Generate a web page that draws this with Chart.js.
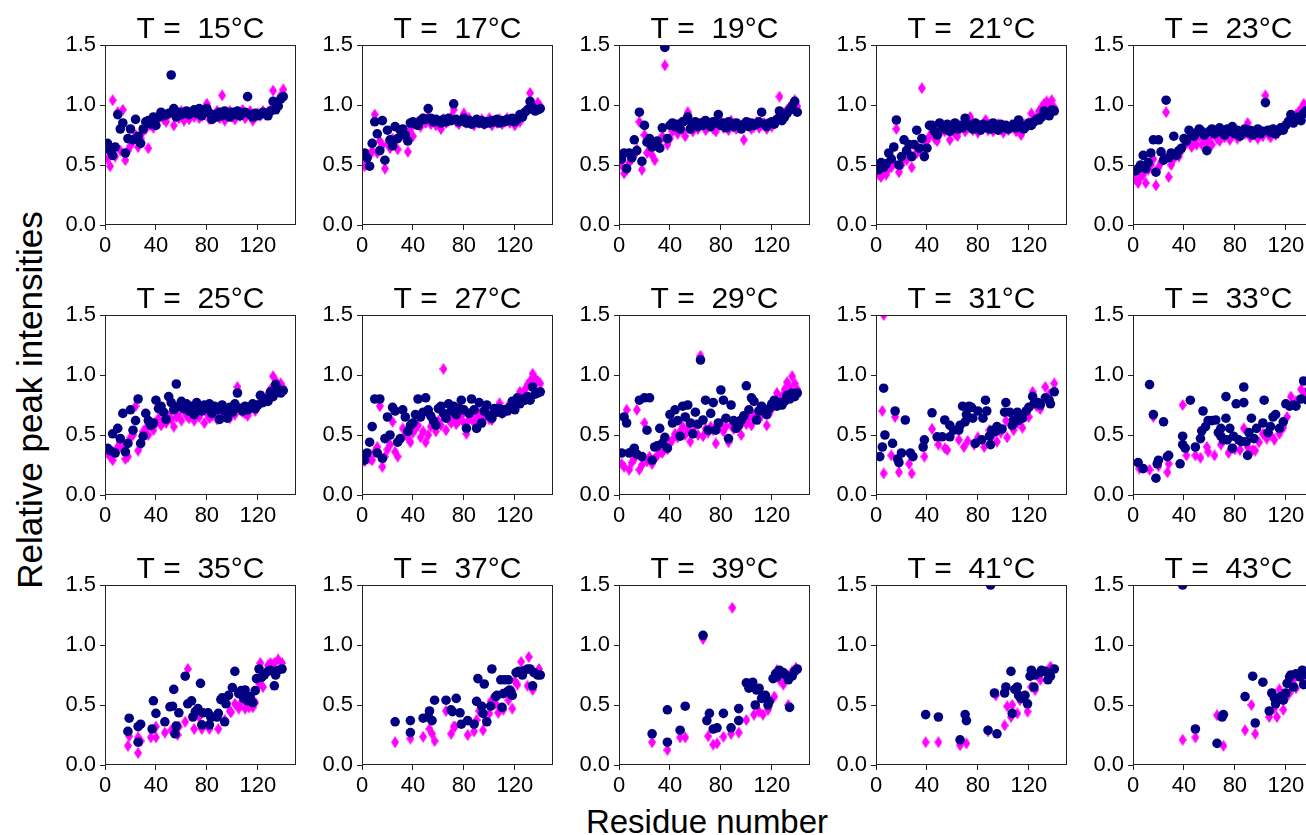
<!DOCTYPE html>
<html>
<head>
<meta charset="utf-8">
<script src="https://cdn.jsdelivr.net/npm/chart.js@4.4.1/dist/chart.umd.min.js"></script>
<style>
  html, body { margin: 0; padding: 0; background: #fff; }
  body { width: 1306px; height: 835px; overflow: hidden; position: relative;
         font-family: "Liberation Sans", Arial, sans-serif; color: #000; }
  canvas.panel { position: absolute; }
  #ylab { position: absolute; left: 30px; top: 400px; font-size: 35px; white-space: nowrap;
          transform: translate(-50%, -50%) rotate(-90deg); }
  #xlab { position: absolute; left: 707px; top: 822px; font-size: 33px; white-space: nowrap;
          transform: translate(-50%, -50%); }
</style>
</head>
<body>
<div id="ylab">Relative peak intensities</div>
<div id="xlab">Residue number</div>
<script>
// temperatures of the 15 panels
const temps = [15, 17, 19, 21, 23, 25, 27, 29, 31, 33, 35, 37, 39, 41, 43];

// residue numbers used by the dense panels (15-29 C)
const resAll = [2, 4, 6, 8, 10, 12, 14, 16, 18, 20, 22, 24, 26, 28, 30, 32, 34, 36, 38, 40,
  42, 44, 46, 48, 50, 52, 54, 56, 58, 60, 62, 64, 66, 68, 70, 72, 74, 76, 78, 80,
  82, 84, 86, 88, 90, 92, 94, 96, 98, 100, 102, 104, 106, 108, 110, 112, 114, 116, 118, 120,
  122, 124, 126, 128, 130, 132, 134, 136, 138, 140];

const navy15 = [0.68,0.62,0.58,0.65,0.92,0.80,0.85,0.60,0.72,0.80, 0.71,0.88,0.74,0.68,0.80,0.86,0.87,0.84,0.90,0.83,
  0.90,0.94,0.91,0.92,0.93,1.25,0.97,0.90,0.94,0.92, 0.93,0.95,0.92,0.94,0.96,0.93,0.97,0.91,0.95,0.97,
  0.93,0.88,0.92,0.90,0.94,0.91,0.95,0.93,0.90,0.94, 0.92,0.95,0.91,0.93,0.94,1.07,0.92,0.90,0.93,0.91,
  0.92,0.94,0.93,0.91,0.95,1.03,0.96,0.99,1.05,1.07];
const mag15 = [0.55,0.49,1.04,0.57,0.94,0.62,0.96,0.54,0.62,0.66, 0.70,0.75,0.65,0.72,0.78,0.80,0.64,0.83,0.81,0.87,
  0.89,0.91,0.88,0.86,0.92,0.94,0.83,0.91,0.89,0.95, 0.87,0.92,0.88,0.93,0.90,0.94,0.89,0.91,0.97,1.01,
  0.88,0.92,0.90,0.95,0.89,1.08,0.87,0.93,0.95,0.90, 0.88,0.94,0.91,0.96,0.89,0.92,0.95,0.87,0.90,0.93,
  0.91,0.95,0.92,0.94,0.96,1.12,0.99,1.02,1.08,1.13];

const navy17 = [0.60,0.56,0.49,0.68,0.86,0.76,0.62,0.87,0.54,0.79, 0.71,0.66,0.82,0.72,0.79,0.80,0.75,0.70,0.85,0.86,
  0.84,0.83,0.87,0.89,0.88,0.97,0.89,0.86,0.88,0.87, 0.85,0.88,0.86,0.89,0.87,1.01,0.88,0.86,0.87,0.89,
  0.85,0.87,0.84,0.86,0.88,0.85,0.87,0.84,0.86,0.85, 0.87,0.86,0.88,0.85,0.87,0.86,0.88,0.87,0.89,0.86,
  0.88,0.92,0.90,0.94,0.96,1.03,0.98,0.95,0.96,0.97];
const mag17 = [0.49,0.52,0.58,0.62,0.92,0.60,0.70,0.66,0.47,0.68, 0.64,0.72,0.70,0.63,0.74,0.76,0.72,0.61,0.80,0.74,
  0.84,0.86,0.82,0.88,0.85,0.90,0.84,0.87,0.83,0.86, 0.80,0.88,0.85,0.87,0.90,0.96,0.86,0.84,0.88,0.93,
  0.85,0.89,0.86,0.83,0.87,0.85,0.88,0.84,0.86,0.89, 0.83,0.87,0.85,0.88,0.84,0.86,0.89,0.85,0.87,0.83,
  0.88,0.86,0.91,0.93,0.97,1.10,1.00,0.98,1.02,0.99];

const navy19 = [0.55,0.60,0.47,0.60,0.56,0.71,0.62,0.94,0.53,0.83, 0.69,0.72,0.65,0.68,0.70,0.64,0.81,1.48,0.72,0.83,
  0.85,0.82,0.84,0.80,0.86,0.87,0.90,0.80,0.84,0.86, 0.82,0.85,0.83,0.87,0.84,0.82,0.86,0.85,0.92,0.83,
  0.85,0.81,0.86,0.84,0.82,0.85,0.83,0.80,0.84,0.86, 0.82,0.85,0.83,0.84,0.86,0.94,0.84,0.82,0.85,0.86,
  0.84,0.88,0.95,0.87,0.90,0.93,0.96,0.99,1.03,0.94];
const mag19 = [0.50,0.43,0.46,0.52,0.55,0.58,0.63,0.86,0.46,0.75, 0.60,0.64,0.58,0.54,0.66,0.70,0.74,1.33,0.67,0.72,
  0.78,0.80,0.76,0.82,0.79,0.74,0.94,0.81,0.78,0.84, 0.80,0.83,0.86,0.79,0.82,0.85,0.80,0.78,0.83,0.86,
  0.81,0.84,0.79,0.87,0.82,0.80,0.84,0.81,0.71,0.83, 0.85,0.80,0.82,0.86,0.81,0.83,0.85,0.80,0.84,0.82,
  0.86,0.89,1.07,0.90,0.93,0.96,0.98,1.01,1.04,0.99];

const navy21 = [0.46,0.52,0.48,0.51,0.60,0.55,0.65,0.875,0.50,0.57, 0.71,0.62,0.67,0.57,0.67,0.79,0.64,0.72,0.57,0.64,
  0.83,0.83,0.78,0.75,0.85,0.82,0.80,0.84,0.78,0.82, 0.85,0.80,0.83,0.81,0.89,0.84,0.82,0.80,0.85,0.83,
  0.79,0.84,0.81,0.83,0.80,0.85,0.82,0.79,0.84,0.81, 0.83,0.80,0.82,0.84,0.81,0.875,0.83,0.80,0.82,0.85,
  0.83,0.86,0.88,0.875,0.90,0.95,0.93,0.91,0.96,0.95];
const mag21 = [0.42,0.40,0.44,0.42,0.47,0.48,0.52,0.80,0.44,0.50, 0.56,0.54,0.60,0.48,0.58,0.60,0.62,1.14,0.66,0.70,
  0.74,0.78,0.72,0.70,0.76,0.80,0.78,0.82,0.71,0.79, 0.76,0.74,0.80,0.83,0.78,0.81,0.90,0.79,0.84,0.77,
  0.82,0.80,0.875,0.79,0.83,0.78,0.81,0.84,0.80,0.77, 0.82,0.79,0.83,0.81,0.78,0.80,0.75,0.84,0.82,0.85,
  0.93,0.88,0.90,0.95,0.98,1.01,1.03,1.00,1.04,0.98];

const navy23 = [0.45,0.47,0.50,0.58,0.47,0.52,0.60,0.71,0.44,0.71, 0.61,0.54,1.04,0.56,0.60,0.74,0.58,0.62,0.64,0.72,
  0.70,0.79,0.76,0.74,0.77,0.80,0.78,0.75,0.62,0.78, 0.80,0.76,0.79,0.81,0.77,0.75,0.80,0.78,0.82,0.76,
  0.79,0.74,0.78,0.80,0.77,0.79,0.75,0.78,0.80,0.76, 0.78,1.02,0.79,0.77,0.80,0.76,0.78,0.81,0.79,0.83,
  0.86,0.92,0.85,0.88,0.90,0.87,0.93,0.95,0.92,0.96];
const mag23 = [0.38,0.35,0.40,0.42,0.35,0.46,0.50,0.55,0.33,0.48, 0.52,0.58,0.94,0.40,0.50,0.55,0.60,0.57,0.62,0.66,
  0.68,0.72,0.65,0.70,0.67,0.74,0.67,0.71,0.69,0.73, 0.67,0.75,0.72,0.70,0.76,0.73,0.78,0.71,0.75,0.77,
  0.72,0.74,0.79,0.76,0.85,0.73,0.77,0.75,0.72,0.78, 0.74,1.08,0.76,0.73,0.79,0.75,0.77,0.80,0.82,0.84,
  0.88,0.90,0.86,0.92,0.94,0.97,1.01,0.98,0.99,1.00];

const navy25 = [0.39,0.37,0.51,0.35,0.555,0.47,0.68,0.36,0.43,0.71, 0.54,0.62,0.80,0.43,0.49,0.68,0.62,0.58,0.60,0.79,
  0.72,0.74,0.69,0.63,0.82,0.77,0.71,0.925,0.74,0.78, 0.72,0.76,0.70,0.74,0.67,0.77,0.73,0.70,0.75,0.72,
  0.76,0.68,0.74,0.71,0.63,0.75,0.70,0.64,0.73,0.69, 0.76,0.85,0.72,0.70,0.74,0.71,0.73,0.76,0.72,0.75,
  0.83,0.77,0.80,0.78,0.86,0.82,0.92,0.88,0.85,0.87];
const mag25 = [0.35,0.32,0.29,0.36,0.40,0.44,0.38,0.30,0.32,0.48, 0.50,0.74,0.37,0.42,0.53,0.555,0.50,0.58,0.54,0.60,
  0.64,0.58,0.62,0.60,0.66,0.63,0.57,0.65,0.68,0.62, 0.71,0.66,0.64,0.69,0.62,0.67,0.65,0.70,0.60,0.68,
  0.64,0.66,0.70,0.63,0.67,0.65,0.69,0.66,0.64,0.70, 0.67,0.90,0.72,0.69,0.68,0.66,0.71,0.73,0.70,0.74,
  0.78,0.82,0.79,0.84,0.88,0.99,0.95,0.91,0.93,0.89];

const navy27 = [0.29,0.35,0.44,0.57,0.80,0.35,0.80,0.305,0.47,0.65, 0.50,0.73,0.70,0.44,0.47,0.71,0.65,0.53,0.58,0.60,
  0.67,0.80,0.65,0.69,0.81,0.71,0.66,0.62,0.58,0.72, 0.74,0.68,0.64,0.76,0.70,0.74,0.67,0.72,0.79,0.71,
  0.555,0.68,0.80,0.71,0.555,0.77,0.60,0.70,0.75,0.66, 0.64,0.72,0.69,0.72,0.68,0.71,0.70,0.73,0.78,0.71,
  0.81,0.76,0.80,0.79,0.82,0.79,0.90,0.84,0.85,0.86];
const mag27 = [0.28,0.33,0.30,0.29,0.36,0.40,0.74,0.235,0.32,0.38, 0.42,0.61,0.36,0.32,0.46,0.555,0.50,0.48,0.44,0.52,
  0.55,0.58,0.48,0.53,0.44,0.50,0.57,0.60,0.53,0.62, 0.58,1.05,0.54,0.63,0.60,0.65,0.59,0.62,0.66,0.60,
  0.51,0.63,0.67,0.60,0.64,0.68,0.61,0.66,0.70,0.63, 0.625,0.69,0.72,0.765,0.68,0.70,0.73,0.71,0.76,0.74,
  0.80,0.86,0.83,0.88,0.92,0.95,1.01,0.97,0.95,0.93];

const navy29 = [0.35,0.65,0.60,0.35,0.36,0.39,0.34,0.79,0.32,0.81, 0.54,0.81,0.29,0.40,0.41,0.555,0.43,0.48,0.39,0.67,
  0.60,0.71,0.62,0.49,0.74,0.65,0.75,0.60,0.51,0.69, 0.59,1.125,0.625,0.79,0.54,0.68,0.77,0.54,0.60,0.875,
  0.79,0.64,0.47,0.75,0.62,0.555,0.58,0.625,0.66,0.91, 0.71,0.81,0.78,0.625,0.70,0.74,0.71,0.67,0.72,0.76,
  0.79,0.74,0.77,0.75,0.78,0.83,0.80,0.85,0.82,0.85];
const mag29 = [0.26,0.235,0.71,0.21,0.27,0.30,0.71,0.21,0.25,0.60, 0.28,0.32,0.26,0.30,0.33,0.36,0.35,0.40,0.38,0.43,
  0.46,0.51,0.48,0.53,0.57,0.50,0.55,0.445,0.52,0.58, 0.50,1.16,0.49,0.55,0.52,0.57,0.54,0.43,0.56,0.59,
  0.53,0.57,0.44,0.58,0.55,0.60,0.57,0.50,0.62,0.59, 0.64,0.58,0.66,0.69,0.63,0.67,0.70,0.58,0.68,0.72,
  0.75,0.85,0.78,0.82,0.88,0.94,0.90,0.99,0.93,0.88];

// sparser panels: [residue, intensity]
const navy31 = [[3,0.32],[5,0.40],[6,0.89],[7,0.50],[13,0.43],[15,0.70],[17,0.30],[18,0.27],[20,0.35],[23,0.625],
  [27,0.35],[29,0.32],[37,0.40],[38,0.46],[44,0.685],[48,0.485],[52,0.485],[54,0.625],[58,0.58],[58,0.485],
  [61,0.54],[65,0.54],[66,0.58],[68,0.74],[70,0.61],[71,0.67],[73,0.74],[75,0.73],[76,0.64],[78,0.43],
  [80,0.70],[83,0.46],[84,0.64],[86,0.79],[87,0.70],[89,0.49],[90,0.42],[91,0.54],[94,0.53],[95,0.57],
  [99,0.55],[101,0.69],[102,0.77],[105,0.69],[107,0.58],[108,0.625],[111,0.69],[112,0.62],[115,0.64],[118,0.70],
  [120,0.73],[123,0.82],[124,0.76],[127,0.77],[129,0.75],[133,0.81],[136,0.79],[137,0.76],[140,0.86]];
const mag31 = [[5,0.70],[6,1.50],[6,0.18],[12,0.33],[15,0.65],[18,0.19],[26,0.26],[28,0.18],[38,0.32],[44,0.55],
  [49,0.42],[54,0.39],[56,0.375],[65,0.46],[69,0.40],[72,0.45],[77,0.42],[80,0.48],[85,0.40],[89,0.54],
  [92,0.50],[95,0.445],[98,0.52],[102,0.62],[103,0.48],[106,0.58],[108,0.54],[111,0.60],[115,0.56],[118,0.66],
  [120,0.65],[123,0.86],[126,0.74],[129,0.715],[131,0.78],[133,0.90],[136,0.84],[140,0.93]];

const navy33 = [[4,0.27],[8,0.22],[13,0.92],[16,0.67],[18,0.14],[19,0.26],[20,0.29],[24,0.61],[27,0.32],[28,0.33],
  [37,0.26],[39,0.42],[39,0.49],[41,0.39],[45,0.79],[49,0.40],[53,0.47],[54,0.535],[55,0.70],[57,0.57],
  [59,0.62],[62,0.62],[65,0.625],[67,0.52],[69,0.49],[69,0.555],[71,0.46],[73,0.64],[73,0.82],[74,0.46],
  [76,0.555],[78,0.39],[79,0.49],[81,0.76],[83,0.46],[85,0.445],[87,0.90],[87,0.77],[89,0.445],[90,0.33],
  [91,0.52],[93,0.64],[95,0.47],[97,0.555],[102,0.60],[103,0.79],[106,0.52],[108,0.57],[110,0.65],[112,0.67],
  [115,0.555],[118,0.61],[120,0.76],[123,0.74],[126,0.75],[128,0.74],[132,0.80],[134,0.95],[137,0.79],[139,0.875]];
const mag33 = [[5,0.22],[13,0.21],[16,0.65],[20,0.24],[27,0.19],[28,0.26],[39,0.75],[42,0.33],[49,0.33],[53,0.31],
  [58,0.40],[59,0.36],[64,0.33],[69,0.42],[75,0.35],[80,0.38],[84,0.375],[87,0.555],[90,0.40],[94,0.375],
  [96,0.37],[99,0.44],[102,0.51],[105,0.47],[108,0.50],[111,0.46],[115,0.51],[118,0.56],[121,0.65],[124,0.82],
  [128,0.78],[132,0.88],[135,0.85],[138,0.94]];

const navy35 = [[18,0.28],[19,0.39],[26,0.19],[26,0.32],[28,0.34],[37,0.30],[38,0.535],[40,0.43],[47,0.36],[51,0.485],
  [53,0.49],[54,0.63],[55,0.26],[56,0.325],[58,0.435],[63,0.74],[65,0.51],[68,0.535],[69,0.40],[71,0.445],
  [73,0.47],[75,0.68],[76,0.335],[77,0.435],[81,0.435],[82,0.335],[83,0.40],[84,0.40],[88,0.40],[89,0.43],
  [91,0.545],[92,0.56],[94,0.36],[95,0.51],[97,0.58],[100,0.645],[102,0.78],[105,0.595],[107,0.62],[109,0.555],
  [110,0.625],[112,0.535],[114,0.57],[116,0.52],[118,0.62],[119,0.72],[121,0.80],[123,0.73],[125,0.75],[128,0.78],
  [130,0.79],[133,0.66],[134,0.75],[136,0.79],[139,0.80]];
const mag35 = [[18,0.16],[19,0.24],[26,0.10],[26,0.23],[28,0.20],[36,0.23],[40,0.23],[40,0.32],[47,0.27],[52,0.29],
  [55,0.32],[57,0.25],[58,0.32],[63,0.36],[65,0.80],[70,0.30],[74,0.40],[76,0.30],[82,0.30],[89,0.30],
  [94,0.375],[98,0.45],[99,0.44],[102,0.51],[105,0.47],[107,0.52],[110,0.47],[113,0.48],[116,0.48],[118,0.52],
  [121,0.68],[122,0.85],[124,0.65],[128,0.83],[130,0.85],[133,0.85],[136,0.88],[139,0.85]];

const navy37 = [[26,0.36],[38,0.27],[38,0.37],[48,0.39],[52,0.40],[53,0.45],[55,0.37],[57,0.54],[66,0.54],[70,0.46],
  [71,0.445],[74,0.555],[77,0.435],[78,0.34],[83,0.37],[88,0.34],[90,0.53],[91,0.72],[94,0.49],[95,0.43],
  [96,0.675],[98,0.36],[101,0.49],[102,0.80],[105,0.57],[106,0.58],[109,0.71],[110,0.48],[111,0.595],[112,0.71],
  [114,0.61],[115,0.71],[116,0.625],[117,0.61],[118,0.58],[121,0.77],[123,0.78],[126,0.75],[127,0.785],[130,0.80],
  [132,0.80],[134,0.66],[135,0.77],[138,0.75],[140,0.75]];
const mag37 = [[26,0.19],[38,0.22],[48,0.235],[53,0.30],[55,0.26],[57,0.20],[66,0.45],[70,0.26],[72,0.32],[73,0.32],
  [83,0.25],[88,0.28],[90,0.375],[92,0.45],[95,0.29],[97,0.375],[100,0.43],[101,0.53],[105,0.51],[107,0.435],
  [111,0.46],[115,0.54],[118,0.47],[120,0.70],[122,0.67],[125,0.86],[130,0.66],[131,0.90],[134,0.625],[139,0.80]];

const navy39 = [[26,0.26],[38,0.19],[38,0.46],[48,0.29],[52,0.49],[66,1.08],[69,0.37],[71,0.43],[74,0.30],[77,0.31],
  [82,0.43],[88,0.31],[94,0.47],[94,0.37],[100,0.685],[102,0.64],[105,0.69],[107,0.50],[108,0.625],[110,0.64],
  [112,0.555],[113,0.58],[115,0.58],[117,0.50],[118,0.53],[121,0.72],[123,0.76],[124,0.735],[126,0.79],[129,0.77],
  [131,0.75],[133,0.71],[134,0.48],[136,0.74],[138,0.78],[140,0.80]];
const mag39 = [[26,0.19],[38,0.125],[48,0.23],[52,0.23],[66,1.05],[70,0.24],[74,0.17],[77,0.18],[82,0.235],[89,1.31],
  [88,0.26],[94,0.27],[100,0.375],[106,0.42],[110,0.445],[113,0.42],[117,0.46],[122,0.57],[124,0.79],[126,0.71],
  [129,0.67],[133,0.50],[136,0.78],[139,0.81]];

const navy41 = [[39,0.42],[49,0.40],[66,0.21],[70,0.42],[71,0.37],[88,0.29],[90,1.50],[93,0.60],[95,0.26],[101,0.60],
  [102,0.65],[106,0.78],[107,0.43],[109,0.63],[111,0.65],[112,0.58],[114,0.555],[117,0.58],[119,0.51],[121,0.74],
  [122,0.79],[124,0.65],[125,0.75],[129,0.77],[130,0.79],[133,0.78],[135,0.71],[137,0.74],[140,0.80]];
const mag41 = [[39,0.19],[49,0.19],[66,0.165],[71,0.18],[88,0.28],[94,0.58],[101,0.33],[103,0.49],[106,0.40],[107,0.50],
  [111,0.43],[113,0.54],[119,0.445],[122,0.65],[125,0.625],[129,0.71],[134,0.76],[137,0.82]];

const navy43 = [[39,1.50],[49,0.30],[66,0.18],[70,0.40],[71,0.42],[88,0.57],[94,0.74],[96,0.35],[102,0.69],[107,0.45],
  [109,0.60],[111,0.56],[112,0.51],[115,0.555],[116,0.57],[118,0.54],[120,0.60],[121,0.68],[123,0.735],[124,0.75],
  [126,0.65],[128,0.76],[131,0.735],[133,0.79],[134,0.67],[137,0.75],[140,0.76]];
const mag43 = [[39,0.21],[49,0.23],[66,0.415],[71,0.16],[88,0.29],[93,0.50],[96,0.26],[107,0.40],[111,0.47],[113,0.40],
  [115,0.63],[118,0.46],[120,0.555],[123,0.60],[126,0.71],[128,0.64],[133,0.71],[137,0.76],[139,0.80]];

const yTicks = [0, 0.5, 1.0, 1.5];
const xTicks = [0, 40, 80, 120];

const NAVY = "#000080";
const MAGENTA = "#ff00ff";
const FONT = '"Liberation Sans", Arial, sans-serif';

function fromGrid(xs, ys) { return xs.map((x, i) => ({ x: x, y: ys[i] })); }
function fromPairs(p) { return p.map(d => ({ x: d[0], y: d[1] })); }

const series = [
  [fromGrid(resAll, navy15), fromGrid(resAll, mag15)],
  [fromGrid(resAll, navy17), fromGrid(resAll, mag17)],
  [fromGrid(resAll, navy19), fromGrid(resAll, mag19)],
  [fromGrid(resAll, navy21), fromGrid(resAll, mag21)],
  [fromGrid(resAll, navy23), fromGrid(resAll, mag23)],
  [fromGrid(resAll, navy25), fromGrid(resAll, mag25)],
  [fromGrid(resAll, navy27), fromGrid(resAll, mag27)],
  [fromGrid(resAll, navy29), fromGrid(resAll, mag29)],
  [fromPairs(navy31), fromPairs(mag31)],
  [fromPairs(navy33), fromPairs(mag33)],
  [fromPairs(navy35), fromPairs(mag35)],
  [fromPairs(navy37), fromPairs(mag37)],
  [fromPairs(navy39), fromPairs(mag39)],
  [fromPairs(navy41), fromPairs(mag41)],
  [fromPairs(navy43), fromPairs(mag43)]
];

// thin diamond marker (matplotlib 'd')
function diamond(w, h, color) {
  const c = document.createElement("canvas");
  c.width = w; c.height = h;
  const g = c.getContext("2d");
  g.fillStyle = color;
  g.beginPath();
  g.moveTo(w / 2, 0); g.lineTo(w, h / 2); g.lineTo(w / 2, h); g.lineTo(0, h / 2);
  g.closePath();
  g.fill();
  return c;
}
const diamondImg = diamond(8, 12, MAGENTA);

// full box frame + title centred on the axes
const frameAndTitle = {
  id: "frameAndTitle",
  afterDraw(chart, args, opts) {
    const a = chart.chartArea;
    const ctx = chart.ctx;
    ctx.save();
    ctx.strokeStyle = "#222";
    ctx.lineWidth = 1;
    ctx.strokeRect(a.left + 0.5, a.top + 0.5, a.right - a.left - 1, a.bottom - a.top - 1);
    ctx.fillStyle = "#000";
    ctx.font = "30px " + FONT;
    ctx.textAlign = "center";
    ctx.textBaseline = "alphabetic";
    ctx.fillText(opts.text, (a.left + a.right) / 2, a.top - 7);
    ctx.restore();
  }
};

// layout of the grid
const PLOT_LEFT = 105, COL_STEP = 257, PLOT_TOP = 45, ROW_STEP = 270;
const Y_AXIS_W = 50, X_AXIS_H = 36, TOP_PAD = 42, RIGHT_PAD = 6;
const PLOT_W = 191, PLOT_H = 180;

temps.forEach((t, i) => {
  const col = i % 5, row = Math.floor(i / 5);
  const cv = document.createElement("canvas");
  cv.className = "panel";
  cv.width = Y_AXIS_W + PLOT_W + RIGHT_PAD;
  cv.height = TOP_PAD + PLOT_H + X_AXIS_H;
  cv.style.left = Math.round(PLOT_LEFT + col * COL_STEP - Y_AXIS_W) + "px";
  cv.style.top = (PLOT_TOP + row * ROW_STEP - TOP_PAD) + "px";
  document.body.appendChild(cv);

  new Chart(cv, {
    type: "scatter",
    data: {
      datasets: [
        {
          label: "navy",
          data: series[i][0],
          pointStyle: "circle",
          pointRadius: 4.8,
          backgroundColor: NAVY,
          borderColor: NAVY,
          borderWidth: 0,
        },
        {
          label: "magenta",
          data: series[i][1],
          pointStyle: diamondImg,
          pointRadius: 5,
          backgroundColor: MAGENTA,
          borderWidth: 0,
        },
      ],
    },
    options: {
      responsive: false,
      animation: false,
      events: [],
      layout: { padding: { top: TOP_PAD, right: RIGHT_PAD, left: 0, bottom: 0 } },
      plugins: {
        legend: { display: false },
        tooltip: { enabled: false },
        frameAndTitle: { text: "T =  " + t + "°C" },
      },
      scales: {
        x: {
          type: "linear",
          min: 0,
          max: 150,
          afterFit: s => { s.height = X_AXIS_H; },
          afterBuildTicks: s => { s.ticks = xTicks.map(v => ({ value: v })); },
          border: { display: false },
          grid: { drawOnChartArea: false, drawTicks: true, tickLength: 5, color: "#222" },
          ticks: {
            maxRotation: 0,
            autoSkip: false,
            padding: 3,
            color: "#000",
            font: { family: FONT, size: 22 },
            callback: v => String(v),
          },
        },
        y: {
          type: "linear",
          min: 0,
          max: 1.5,
          afterFit: s => { s.width = Y_AXIS_W; },
          afterBuildTicks: s => { s.ticks = yTicks.map(v => ({ value: v })); },
          border: { display: false },
          grid: { drawOnChartArea: false, drawTicks: true, tickLength: 5, color: "#222" },
          ticks: {
            autoSkip: false,
            padding: 4,
            color: "#000",
            font: { family: FONT, size: 22 },
            callback: v => Number(v).toFixed(1),
          },
        },
      },
    },
    plugins: [frameAndTitle],
  });
});
</script>
</body>
</html>
